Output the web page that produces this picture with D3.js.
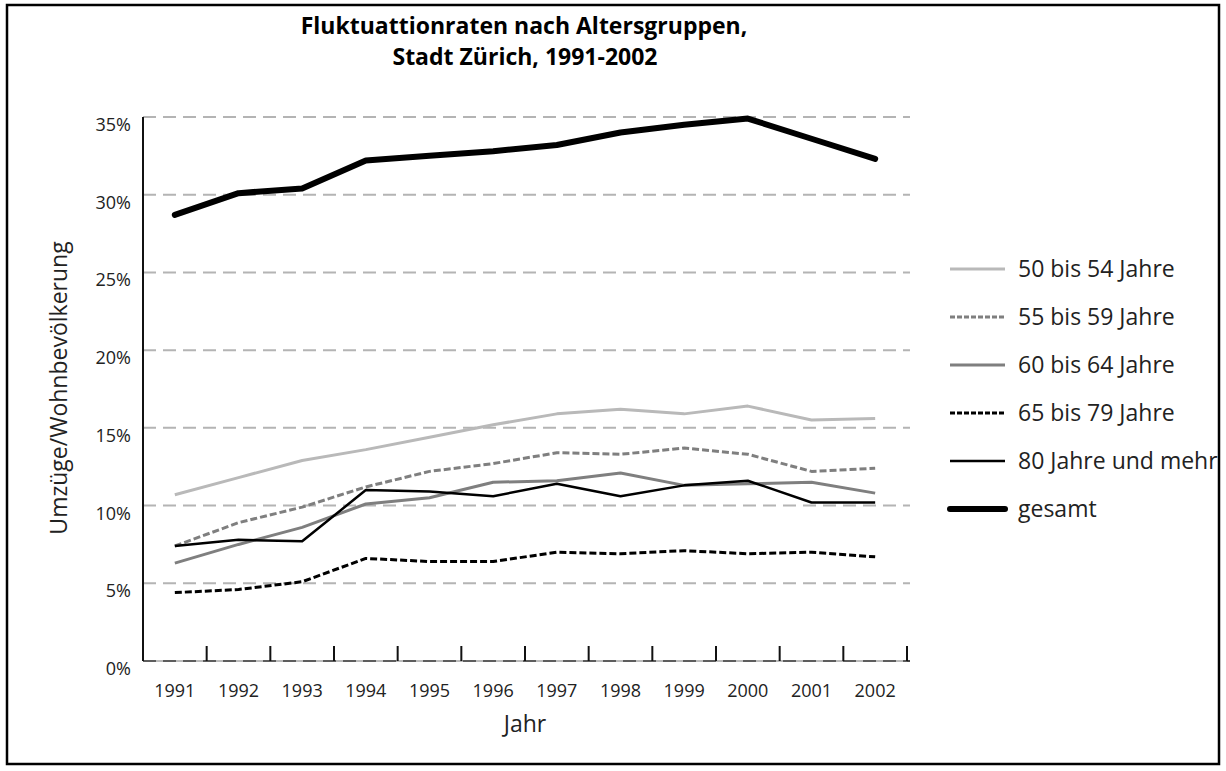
<!DOCTYPE html>
<html>
<head>
<meta charset="utf-8">
<script src="https://cdn.jsdelivr.net/npm/d3@7/dist/d3.min.js"></script>
<style>
  body { margin: 0; background: #fff; }
  svg { display: block; font-family: "Open Sans", sans-serif; }
</style>
</head>
<body>
<svg id="chart" width="1226" height="771"></svg>
<script>
// values (percent)
const years = [1991, 1992, 1993, 1994, 1995, 1996, 1997, 1998, 1999, 2000, 2001, 2002];
const yTicks = [0, 5, 10, 15, 20, 25, 30, 35];
const seriesNames = ["50 bis 54 Jahre", "55 bis 59 Jahre", "60 bis 64 Jahre", "65 bis 79 Jahre", "80 Jahre und mehr", "gesamt"];
const age50to54 = [10.7, 11.8, 12.9, 13.6, 14.4, 15.2, 15.9, 16.2, 15.9, 16.4, 15.5, 15.6];
const age55to59 = [7.4, 8.9, 9.9, 11.2, 12.2, 12.7, 13.4, 13.3, 13.7, 13.3, 12.2, 12.4];
const age60to64 = [6.3, 7.5, 8.6, 10.1, 10.5, 11.5, 11.6, 12.1, 11.3, 11.4, 11.5, 10.8];
const age65to79 = [4.4, 4.6, 5.1, 6.6, 6.4, 6.4, 7.0, 6.9, 7.1, 6.9, 7.0, 6.7];
const age80plus = [7.4, 7.8, 7.7, 11.0, 10.9, 10.6, 11.4, 10.6, 11.3, 11.6, 10.2, 10.2];
const gesamt = [28.7, 30.1, 30.4, 32.2, 32.5, 32.8, 33.2, 34.0, 34.5, 34.9, 33.6, 32.3];

const styles = [
    { color: "#b9b9b9", width: 3, dash: null },
    { color: "#7f7f7f", width: 3, dash: "7,3" },
    { color: "#7f7f7f", width: 3, dash: null },
    { color: "#000", width: 3, dash: "7,3" },
    { color: "#000", width: 2.5, dash: null },
    { color: "#000", width: 6, dash: null }
];
const allValues = [age50to54, age55to59, age60to64, age65to79, age80plus, gesamt];

const svg = d3.select("#chart");

// plot area
const plotLeft = 143, plotRight = 907, plotTop = 117, plotBottom = 661;

const x = d3.scaleBand()
    .domain(years)
    .range([plotLeft, plotRight]);

const y = d3.scaleLinear()
    .domain([0, 35])
    .range([plotBottom, plotTop]);

// title
svg.append("text")
    .attr("x", 524).attr("y", 34)
    .attr("text-anchor", "middle")
    .attr("font-weight", "bold").attr("font-size", 23)
    .text("Fluktuattionraten nach Altersgruppen,");
svg.append("text")
    .attr("x", 525).attr("y", 65)
    .attr("text-anchor", "middle")
    .attr("font-weight", "bold").attr("font-size", 23)
    .text("Stadt Zürich, 1991-2002");

// dashed gridlines
svg.append("g")
    .selectAll("line")
    .data(yTicks)
    .enter()
    .append("line")
    .attr("x1", plotLeft).attr("x2", plotRight + 3)
    .attr("y1", d => y(d)).attr("y2", d => y(d))
    .attr("stroke", d => d === 0 ? "#444" : "#b4b4b4")
    .attr("stroke-width", 2)
    .attr("stroke-dasharray", "13,7");

// y labels
svg.append("g")
    .selectAll("text")
    .data(yTicks)
    .enter()
    .append("text")
    .attr("x", 131)
    .attr("y", d => y(d) + 14)
    .attr("text-anchor", "end")
    .attr("font-size", 18)
    .attr("fill", "#222")
    .text(d => d + "%");

// x axis: thin baseline, ticks pointing up at band edges
svg.append("line")
    .attr("x1", plotLeft).attr("x2", plotRight)
    .attr("y1", plotBottom).attr("y2", plotBottom)
    .attr("stroke", "#777").attr("stroke-width", 1);

const edges = years.map(d => x(d)).concat([plotRight]);
svg.append("g")
    .selectAll("line")
    .data(edges)
    .enter()
    .append("line")
    .attr("x1", d => d).attr("x2", d => d)
    .attr("y1", plotBottom).attr("y2", plotBottom - 15)
    .attr("stroke", "#111").attr("stroke-width", 2);

svg.append("g")
    .selectAll("text")
    .data(years)
    .enter()
    .append("text")
    .attr("x", d => x(d) + x.bandwidth() / 2)
    .attr("y", 697)
    .attr("text-anchor", "middle")
    .attr("font-size", 18)
    .attr("fill", "#222")
    .text(d => d);

// y axis line
svg.append("line")
    .attr("x1", plotLeft).attr("x2", plotLeft)
    .attr("y1", plotTop).attr("y2", plotBottom)
    .attr("stroke", "#111").attr("stroke-width", 2);

// axis titles
svg.append("text")
    .attr("x", 525).attr("y", 732)
    .attr("text-anchor", "middle")
    .attr("font-size", 23)
    .attr("fill", "#222")
    .text("Jahr");
svg.append("text")
    .attr("transform", "translate(67,388) rotate(-90)")
    .attr("text-anchor", "middle")
    .attr("font-size", 23)
    .attr("fill", "#222")
    .text("Umzüge/Wohnbevölkerung");

// lines
const line = d3.line()
    .x((d, i) => x(years[i]) + x.bandwidth() / 2)
    .y(d => y(d));

svg.append("g")
    .selectAll("path")
    .data(allValues)
    .enter()
    .append("path")
    .attr("d", d => line(d))
    .attr("fill", "none")
    .attr("stroke", (d, i) => styles[i].color)
    .attr("stroke-width", (d, i) => styles[i].width)
    .attr("stroke-dasharray", (d, i) => styles[i].dash)
    .attr("stroke-linejoin", "round")
    .attr("stroke-linecap", (d, i) => i === 5 ? "round" : "butt");

// legend, clipped by the frame on the right
svg.append("clipPath").attr("id", "frame-clip")
    .append("rect").attr("x", 0).attr("y", 0).attr("width", 1218).attr("height", 771);

const legend = svg.append("g")
    .attr("clip-path", "url(#frame-clip)")
    .selectAll("g")
    .data(seriesNames)
    .enter()
    .append("g")
    .attr("transform", (d, i) => `translate(950,${269 + i * 48})`);

legend.append("line")
    .attr("x1", 0).attr("x2", 55)
    .attr("stroke", (d, i) => styles[i].color)
    .attr("stroke-width", (d, i) => styles[i].width)
    .attr("stroke-dasharray", (d, i) => styles[i].dash ? "5,2" : null)
    .attr("stroke-linecap", (d, i) => i === 5 ? "round" : "butt");

legend.append("text")
    .attr("x", 68).attr("y", 8)
    .attr("font-size", 23)
    .attr("fill", "#222")
    .text(d => d);

// frame
svg.append("rect")
    .attr("x", 7).attr("y", 5)
    .attr("width", 1212).attr("height", 759)
    .attr("fill", "none")
    .attr("stroke", "#000").attr("stroke-width", 2.5);
</script>
</body>
</html>
